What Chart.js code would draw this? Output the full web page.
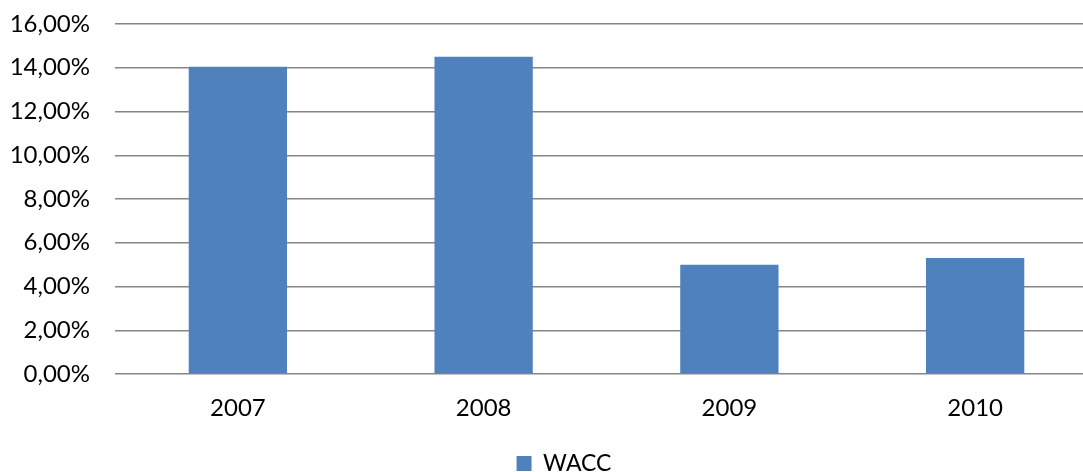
<!DOCTYPE html>
<html>
<head>
<meta charset="utf-8">
<script src="https://cdn.jsdelivr.net/npm/chart.js@4/dist/chart.umd.min.js"></script>
<style>
    html, body { margin: 0; padding: 0; background: #fff; overflow: hidden; }
    #wrap { width: 1100px; height: 472px; }
</style>
</head>
<body>
<div id="wrap"><canvas id="chart" width="1100" height="472"></canvas></div>
<script>
// Chart data
const years = ['2007', '2008', '2009', '2010'];
const wacc = [14.05, 14.5, 5.0, 5.3];
const seriesName = 'WACC';

const FONT = 'Lato';

// Nudge the legend to where Excel put it
const legendShift = {
    id: 'legendShift',
    afterLayout(chart) {
        const lg = chart.legend;
        if (!lg) return;
        const dx = 15, dy = 13;
        lg.left += dx; lg.right += dx;
        lg.top += dy; lg.bottom += dy;
    }
};

new Chart(document.getElementById('chart').getContext('2d'), {
    type: 'bar',
    data: {
        labels: years,
        datasets: [{
            label: seriesName,
            data: wacc,
            backgroundColor: '#4f81bd',
            borderWidth: 0,
            categoryPercentage: 1,
            barPercentage: 0.4
        }]
    },
    options: {
        responsive: false,
        animation: false,
        layout: { padding: { top: 24, right: 2, bottom: 0, left: 0 } },
        scales: {
            y: {
                min: 0,
                max: 16,
                ticks: {
                    stepSize: 2,
                    padding: 25,
                    color: '#000',
                    font: { family: FONT, size: 24 },
                    callback: v => v.toFixed(2).replace('.', ',') + '%'
                },
                grid: { color: '#868686', lineWidth: 1.5, drawTicks: false },
                border: { display: false },
                afterFit: s => {
                    s.width = 115;
                    // don't let the tick padding push the plot down
                    s.paddingTop = 0;
                    s.paddingBottom = 0;
                }
            },
            x: {
                ticks: {
                    padding: 20,
                    color: '#000',
                    font: { family: FONT, size: 24 }
                },
                grid: { display: false, drawTicks: false },
                border: { display: false },
                afterFit: s => { s.height = 55; }
            }
        },
        plugins: {
            legend: {
                position: 'bottom',
                labels: {
                    color: '#000',
                    font: { family: FONT, size: 23 },
                    boxWidth: 15,
                    boxHeight: 15,
                    padding: 10
                }
            },
            tooltip: { enabled: false }
        }
    },
    plugins: [legendShift]
});
</script>
</body>
</html>
